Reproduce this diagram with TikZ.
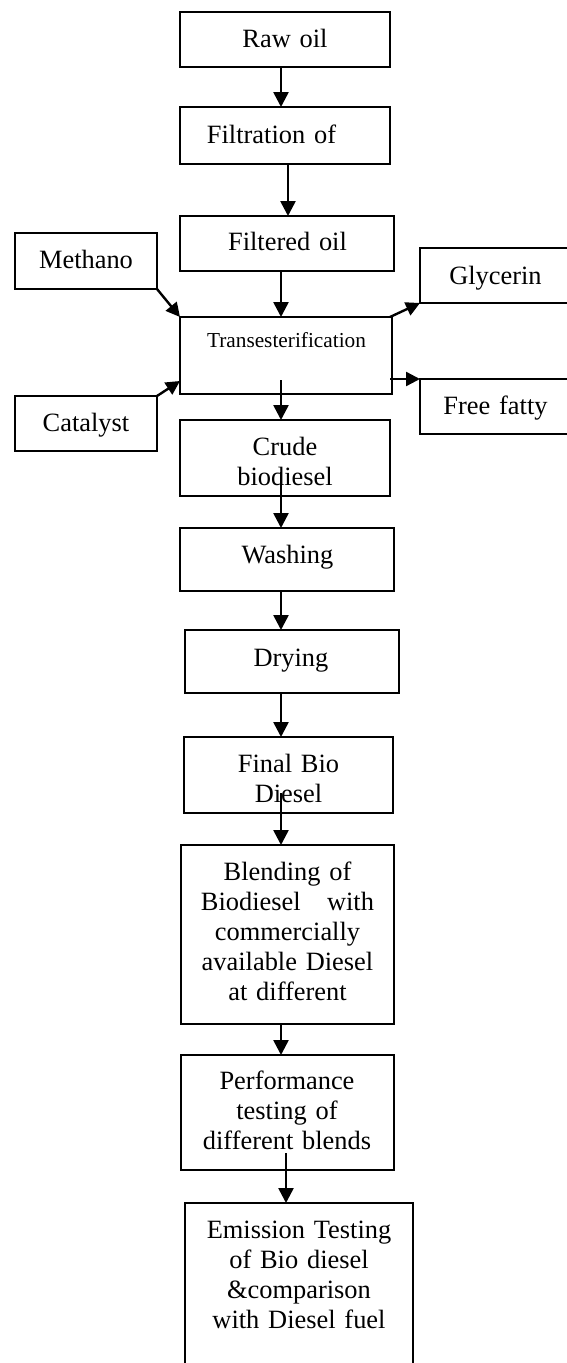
\documentclass[tikz,border=0pt]{standalone}
\usepackage{fontspec}
\setmainfont{Liberation Serif}
\usetikzlibrary{arrows.meta}
\begin{document}
\begin{tikzpicture}[x=1pt,y=-1pt,
  box/.style={draw,line width=1.8pt,inner sep=0pt,outer sep=0pt},
  txt/.style={inner sep=0pt,anchor=base,text width=240pt,align=center,
    font=\fontsize{26.4pt}{30pt}\selectfont},
  small/.style={inner sep=0pt,anchor=base,text width=240pt,align=center,
    font=\fontsize{21.3pt}{25pt}\selectfont},
  arr/.style={line width=2.6pt,-{Triangle[length=15pt,width=15pt]}},
  sarr/.style={line width=2.4pt,-{Triangle[length=14pt,width=14pt]}}]
\clip (0,0) rectangle (567,1363);
% boxes
\node[box,minimum width=210pt,minimum height=55pt] (raw) at (285,39.5) {};
\node[box,minimum width=210pt,minimum height=57pt] (filt) at (285,135.5) {};
\node[box,minimum width=214pt,minimum height=55pt] (filtered) at (287,243.5) {};
\node[box,minimum width=142pt,minimum height=56pt] (meth) at (86,261) {};
\node[box,minimum width=180pt,minimum height=55pt] (glyc) at (510,275.5) {};
\node[box,minimum width=212pt,minimum height=77pt] (trans) at (286,355.5) {};
\node[box,minimum width=142pt,minimum height=55pt] (cat) at (86,423.5) {};
\node[box,minimum width=180pt,minimum height=55pt] (ffa) at (510,406.5) {};
\node[box,minimum width=210pt,minimum height=76pt] (crude) at (285,458) {};
\node[box,minimum width=214pt,minimum height=63pt] (wash) at (287,559.5) {};
\node[box,minimum width=214pt,minimum height=63pt] (dry) at (292,661.5) {};
\node[box,minimum width=209pt,minimum height=76pt] (final) at (288.5,775) {};
\node[box,minimum width=213pt,minimum height=179pt] (blend) at (287.5,934.5) {};
\node[box,minimum width=213pt,minimum height=115pt] (perf) at (287.5,1112.5) {};
\node[box,minimum width=228pt,minimum height=197pt] (emis) at (299,1301.5) {};
% texts
\node[txt] (rawt) at (285,47) {Raw oil};
\node[txt] (filtt) at (271.5,143) {Filtration of};
\node[txt] (filteredt) at (287.5,250) {Filtered oil};
\node[txt] (metht) at (86,268) {Methano};
\node[txt] (glyct) at (495.5,284) {Glycerin};
\node[small] (transt) at (286.5,347) {Transesterification};
\node[txt] (catt) at (86,431) {Catalyst};
\node[txt] (ffat) at (495.5,414) {Free fatty};
\node[txt] (crudet) at (285,455) {Crude\\biodiesel};
\node[txt] (washt) at (287.5,563) {Washing};
\node[txt] (dryt) at (291,666) {Drying};
\node[txt] (finalt) at (288.5,772) {Final Bio\\Diesel};
\node[txt] (blendt) at (287.5,880) {Blending of\\Biodiesel\ \ \ with\\commercially\\available Diesel\\at different};
\node[txt] (perft) at (287,1089) {Performance\\testing of\\different blends};
\node[txt] (emist) at (299,1238) {Emission Testing\\of Bio diesel\\\&comparison\\with Diesel fuel};
% connectors
\draw[arr] ([xshift=-4pt]raw.south) -- ([xshift=-4pt]filt.north);
\draw[arr] ([xshift=3pt]filt.south) -- ([xshift=1pt]filtered.north);
\draw[arr] ([xshift=-6pt]filtered.south) -- ([xshift=-5pt]trans.north);
\draw[sarr] (meth.south east) -- (trans.north west);
\draw[sarr] (cat.north east) -- ([yshift=13pt]trans.south west);
\draw[sarr] ([xshift=-2pt]trans.north east) -- (glyc.south west);
\draw[sarr] ([xshift=-2pt,yshift=15pt]trans.south east) -- (ffa.north west);
\draw[arr] ([xshift=-5pt,yshift=14pt]trans.south) -- ([xshift=-4pt]crude.north);
\draw[arr] ([xshift=-4pt,yshift=24pt]crude.south) -- ([xshift=-6pt]wash.north);
\draw[arr] ([xshift=-6pt]wash.south) -- ([xshift=-11pt]dry.north);
\draw[arr] ([xshift=-11pt]dry.south) -- ([xshift=-7.5pt]final.north);
\draw[arr] ([xshift=-7.5pt,yshift=20pt]final.south) -- ([xshift=-6.5pt]blend.north);
\draw[arr] ([xshift=-6.5pt]blend.south) -- ([xshift=-6.5pt]perf.north);
\draw[arr] ([xshift=-1.5pt,yshift=17pt]perf.south) -- ([xshift=-13pt]emis.north);
\end{tikzpicture}
\end{document}
